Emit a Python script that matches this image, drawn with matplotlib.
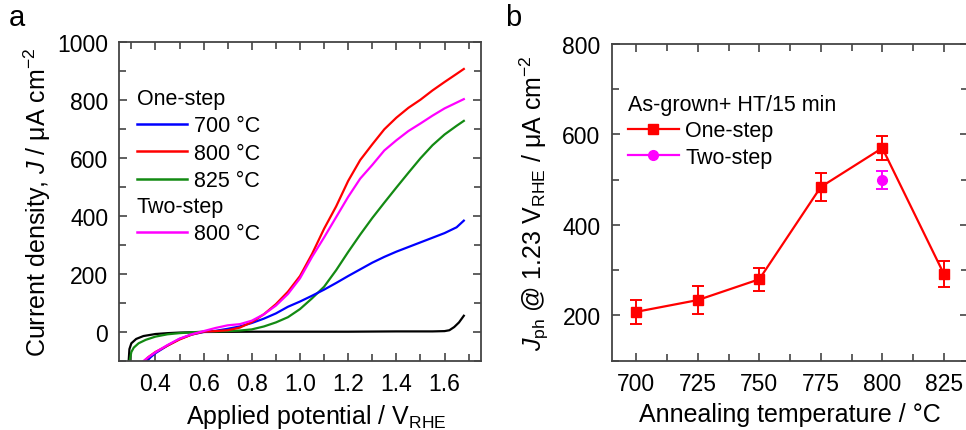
import numpy as np
import matplotlib
matplotlib.use('Agg')
import matplotlib.pyplot as plt
from matplotlib.lines import Line2D
from matplotlib.ticker import MultipleLocator

plt.rcParams['font.family'] = ['Liberation Sans', 'DejaVu Sans']
plt.rcParams['mathtext.fontset'] = 'custom'
plt.rcParams['mathtext.rm'] = 'Liberation Sans'
plt.rcParams['mathtext.it'] = 'Liberation Sans:italic'
plt.rcParams['axes.unicode_minus'] = True

# --- panel a: LSV curves (potential in V_RHE, current density in uA/cm2) ---
v_700 = [0.366, 0.38, 0.40, 0.45, 0.50, 0.55, 0.60, 0.65, 0.70, 0.75, 0.80, 0.85, 0.90,
         0.95, 1.00, 1.05, 1.10, 1.15, 1.20, 1.25, 1.30, 1.35, 1.40, 1.45, 1.50, 1.55,
         1.60, 1.65, 1.68]
j_700 = [-100, -88, -74, -48, -25, -10, -1, 3, 10, 18, 30, 45, 63,
         86, 104, 124, 145, 168, 192, 215, 238, 258, 276, 292, 308, 324,
         340, 360, 383]

v_800 = [0.355, 0.37, 0.40, 0.45, 0.50, 0.55, 0.60, 0.65, 0.70, 0.75, 0.80, 0.85, 0.90,
         0.95, 1.00, 1.05, 1.10, 1.15, 1.20, 1.25, 1.30, 1.35, 1.40, 1.45, 1.50, 1.55,
         1.60, 1.65, 1.68]
j_800 = [-100, -88, -70, -48, -27, -10, 0, 2, 5, 14, 33, 60, 95,
         138, 192, 268, 355, 432, 520, 592, 646, 698, 738, 772, 800, 832,
         861, 889, 906]

v_825 = [0.293, 0.30, 0.31, 0.33, 0.36, 0.40, 0.45, 0.50, 0.55, 0.60, 0.70, 0.75, 0.80,
         0.85, 0.90, 0.95, 1.00, 1.05, 1.10, 1.15, 1.20, 1.25, 1.30, 1.35, 1.40, 1.45,
         1.50, 1.55, 1.60, 1.65, 1.68]
j_825 = [-100, -70, -55, -40, -28, -17, -9, -5, -2, 0, 2, 4, 8,
         18, 32, 50, 78, 115, 155, 212, 275, 335, 392, 445, 497, 548,
         598, 643, 680, 710, 727]

v_two = [0.352, 0.37, 0.40, 0.45, 0.50, 0.55, 0.60, 0.65, 0.70, 0.75, 0.80, 0.85, 0.90,
         0.95, 1.00, 1.05, 1.10, 1.15, 1.20, 1.25, 1.30, 1.35, 1.40, 1.45, 1.50, 1.55,
         1.60, 1.65, 1.68]
j_two = [-100, -88, -71, -46, -24, -9, 2, 13, 22, 26, 38, 60, 90,
         130, 184, 258, 325, 395, 465, 528, 575, 625, 660, 692, 718, 745,
         770, 790, 802]

v_dark = [0.289, 0.292, 0.30, 0.32, 0.35, 0.40, 0.45, 0.50, 0.60, 0.80, 1.00, 1.20, 1.40,
          1.55, 1.60, 1.62, 1.64, 1.66, 1.68]
j_dark = [-100, -60, -40, -25, -15, -8, -5, -3, -1, 0, 0, 0, 1,
          1, 2, 5, 16, 32, 55]

# --- panel b: photocurrent at 1.23 V_RHE vs annealing temperature ---
temps = [700, 725, 750, 775, 800, 825]
jph_one = [208, 234, 280, 484, 570, 292]
err_one = [26, 30, 25, 30, 27, 29]
temp_two = [800]
jph_two = [499]
err_two = [20]

spine_c = '#444444'
tick_fs = 16.5
leg_fs = 15.5
label_fs = 18

fig = plt.figure(figsize=(9.66, 4.31), dpi=100)
ax1 = fig.add_axes([0.1235, 0.1608, 0.3741, 0.7401])
ax2 = fig.add_axes([0.6332, 0.1608, 0.3693, 0.7348])

for ax in (ax1, ax2):
    for s in ax.spines.values():
        s.set_color(spine_c)
        s.set_linewidth(1.3)
    ax.tick_params(which='both', direction='in', top=True, right=True,
                   color=spine_c, width=1.2, labelsize=tick_fs, pad=8)
    ax.tick_params(which='major', length=5.5)
    ax.tick_params(which='minor', length=5.0)

# panel a
ax1.plot(v_dark, j_dark, color='black', lw=1.6)
ax1.plot(v_825, j_825, color='#138a13', lw=1.6)
ax1.plot(v_700, j_700, color='#0000ff', lw=1.6)
ax1.plot(v_800, j_800, color='#ff0000', lw=1.6)
ax1.plot(v_two, j_two, color='#ff00ff', lw=1.6)

ax1.set_xlim(0.25, 1.75)
ax1.set_ylim(-100, 1000)
ax1.xaxis.set_major_locator(MultipleLocator(0.2))
ax1.xaxis.set_minor_locator(MultipleLocator(0.1))
ax1.yaxis.set_major_locator(MultipleLocator(200))
ax1.yaxis.set_minor_locator(MultipleLocator(100))
ax1.set_xticks([0.4, 0.6, 0.8, 1.0, 1.2, 1.4, 1.6])
ax1.set_xticklabels(['0.4', '0.6', '0.8', '1.0', '1.2', '1.4', '1.6'])
ax1.set_yticks([0, 200, 400, 600, 800, 1000])
ax1.set_xlabel(r'Applied potential / V$_{\rm RHE}$', fontsize=label_fs, labelpad=5)
ax1.xaxis.label.set_x(0.545)
ax1.set_ylabel(r'Current density, $J$ / μA cm$^{-2}$', fontsize=label_fs, labelpad=3)

h_one = [Line2D([], [], color='#0000ff', lw=1.8),
         Line2D([], [], color='#ff0000', lw=1.8),
         Line2D([], [], color='#138a13', lw=1.8)]
leg1 = ax1.legend(h_one, ['700 °C', '800 °C', '825 °C'], title='One-step',
                  alignment='left', loc='upper left', bbox_to_anchor=(0.048, 0.855),
                  frameon=False, fontsize=leg_fs, title_fontsize=leg_fs,
                  handlelength=2.35, handletextpad=0.3, labelspacing=0.3,
                  borderpad=0, borderaxespad=0)
ax1.add_artist(leg1)
h_two = [Line2D([], [], color='#ff00ff', lw=1.8)]
ax1.legend(h_two, ['800 °C'], title='Two-step', alignment='left', loc='upper left',
           bbox_to_anchor=(0.048, 0.517), frameon=False, fontsize=leg_fs,
           title_fontsize=leg_fs, handlelength=2.35, handletextpad=0.3,
           labelspacing=0.3, borderpad=0, borderaxespad=0)

# panel b
ax2.errorbar(temps, jph_one, yerr=err_one, color='#ff0000', marker='s', ms=7,
             lw=1.6, elinewidth=1.4, capsize=4, capthick=1.4)
ax2.errorbar(temp_two, jph_two, yerr=err_two, color='#ff00ff', marker='o', ms=7,
             ls='none', elinewidth=1.4, capsize=4, capthick=1.4)

ax2.set_xlim(690, 835)
ax2.set_ylim(100, 800)
ax2.xaxis.set_major_locator(MultipleLocator(25))
ax2.xaxis.set_minor_locator(MultipleLocator(12.5))
ax2.yaxis.set_major_locator(MultipleLocator(200))
ax2.yaxis.set_minor_locator(MultipleLocator(100))
ax2.set_xticks(temps)
ax2.set_yticks([200, 400, 600, 800])
ax2.set_xlabel('Annealing temperature / °C', fontsize=label_fs, labelpad=5)
ax2.set_ylabel(r'$J_{\rm ph}$ @ 1.23 V$_{\rm RHE}$ / μA cm$^{-2}$', fontsize=label_fs,
               labelpad=8)

h_b = [Line2D([], [], color='#ff0000', marker='s', ms=7, lw=1.6),
       Line2D([], [], color='#ff00ff', marker='o', ms=7, lw=1.6)]
ax2.legend(h_b, ['One-step', 'Two-step'], title='As-grown+ HT/15 min',
           alignment='left', loc='upper left', bbox_to_anchor=(0.046, 0.842),
           frameon=False, fontsize=leg_fs, title_fontsize=leg_fs,
           handlelength=2.35, handletextpad=0.3, labelspacing=0.25,
           borderpad=0, borderaxespad=0)

fig.text(0.009, 0.99, 'a', fontsize=21, va='top', ha='left')
fig.text(0.523, 0.99, 'b', fontsize=21, va='top', ha='left')

fig.savefig('out.png', dpi=100)
